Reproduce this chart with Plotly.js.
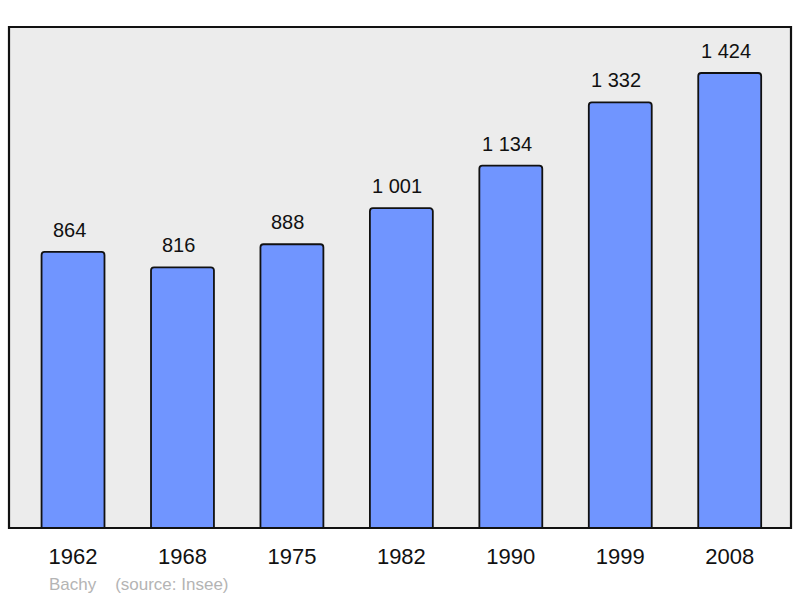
<!DOCTYPE html>
<html><head><meta charset="utf-8">
<script src="https://cdn.plot.ly/plotly-3.0.1.min.js"></script>
<style>html,body{margin:0;padding:0;background:#fff}#chart{width:800px;height:598px}</style>
</head><body><div id="chart"></div>
<script>
var years = ['1962','1968','1975','1982','1990','1999','2008'];
var population = [864, 816, 888, 1001, 1134, 1332, 1424];
var sourceText = 'Bachy \u00a0\u00a0\u00a0(source: Insee)';

function fmt(v){ return String(v).replace(/\B(?=(\d{3})+(?!\d))/g, ' '); }

var trace = {
  type: 'bar', x: years, y: population, width: 0.575,
  marker: {color: '#7095ff', line: {color: '#111', width: 1.8}, cornerradius: 3},
  hoverinfo: 'none'
};
var annotations = years.map(function(y,i){
  return {x: i, y: population[i], xref:'x', yref:'y', text: fmt(population[i]),
    showarrow:false, yanchor:'bottom', yshift: 9, xshift: -4, font:{size:20,color:'#111'}};
});
annotations.push({xref:'paper', yref:'paper', x:(47-9)/782, y:-0.112, xanchor:'left', yanchor:'middle',
  text: sourceText, showarrow:false, font:{size:17,color:'#b4b4b4'}});

var layout = {
  width:800, height:598,
  margin:{l:9,r:9,t:27,b:70,pad:0},
  paper_bgcolor:'#fff', plot_bgcolor:'#ececec',
  font:{family:'"Liberation Sans", Arial, sans-serif', color:'#111'},
  showlegend:false,
  xaxis:{type:'category', range:[-0.585,6.56], showgrid:false, zeroline:false, showline:false, ticks:'',
    tickfont:{size:22,color:'#111'}, ticklabelstandoff:13, fixedrange:true},
  yaxis:{range:[0,1568], showgrid:false, zeroline:false, showline:false, showticklabels:false, ticks:'', fixedrange:true},
  shapes:[{type:'path', xref:'paper', yref:'paper',
    path:'M 0,0 L 1,0 L 1,1 L 0,1 Z', line:{color:'#111', width:2.2}, layer:'above'}],
  annotations: annotations
};
Plotly.newPlot('chart',[trace],layout,{displayModeBar:false, staticPlot:true});
</script></body></html>
